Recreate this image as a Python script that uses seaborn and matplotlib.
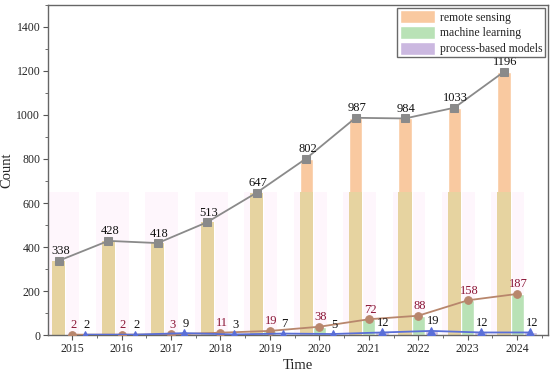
import numpy as np
import pandas as pd
import matplotlib
matplotlib.use("Agg")
import matplotlib.pyplot as plt
import seaborn as sns
from matplotlib.ticker import MultipleLocator

# data
years = ["2015", "2016", "2017", "2018", "2019", "2020", "2021", "2022", "2023", "2024"]
remote_sensing = [338, 428, 418, 513, 647, 802, 987, 984, 1033, 1196]
machine_learning = [2, 2, 3, 11, 19, 38, 72, 88, 158, 187]
process_based = [2, 2, 9, 3, 7, 5, 12, 19, 12, 12]
series_names = ["remote sensing", "machine learning", "process-based models"]

bar_colors = ["#f9c9a0", "#b9e2b6", "#cbb8e0"]
line_colors = ["#8a8a8a", "#b8866c", "#5a6fd8"]
markers = ["s", "o", "^"]
label_colors = ["#111111", "#8a1535", "#111111"]

sns.set_style("ticks")
plt.rcParams["font.family"] = ["Liberation Serif", "DejaVu Serif"]

df = pd.DataFrame({
    "Time": years * 3,
    "Count": remote_sensing + machine_learning + process_based,
    "series": [s for s in series_names for _ in years],
})

fig, ax = plt.subplots(figsize=(5.5, 3.74), dpi=100)
fig.subplots_adjust(left=0.087, right=0.996, top=0.987, bottom=0.104)

sns.barplot(data=df, x="Time", y="Count", hue="series", palette=bar_colors,
            width=0.8, ax=ax, zorder=2, saturation=1)

# remote sensing bars: lower part looks khaki in the reference, faint pink band behind
n = len(years)
rs_patches = ax.patches[:n]
for p, v in zip(rs_patches, remote_sensing):
    ax.bar(p.get_x(), min(v, 650), width=p.get_width(), align="edge",
           color="#e6d3a0", zorder=2.1, linewidth=0)
    ax.bar(p.get_x() - 0.12, 650, width=p.get_width() + 0.4, align="edge",
           color="#fef6fc", zorder=1, linewidth=0)

offsets = [-0.267, 0.0, 0.267]
all_series = [remote_sensing, machine_learning, process_based]
x = np.arange(n)
for vals, off, lc, mk, tc in zip(all_series, offsets, line_colors, markers, label_colors):
    xs = x + off
    sns.lineplot(x=xs, y=vals, color=lc, marker=mk, markersize=5.5,
                 markeredgecolor=lc, linewidth=1.3, ax=ax, zorder=4)
    for xi, v in zip(xs, vals):
        ax.annotate(str(v), (xi, v), xytext=(1, 2.5), textcoords="offset points",
                    ha="center", va="bottom", fontsize=9, color=tc, zorder=5)

ax.set_xlim(-0.49, 9.62)
ax.set_ylim(0, 1500)
ax.yaxis.set_major_locator(MultipleLocator(200))
ax.yaxis.set_minor_locator(MultipleLocator(100))
ax.xaxis.set_minor_locator(MultipleLocator(0.5))
ax.tick_params(axis="both", which="major", labelsize=8.5, length=3.5, color="#555555", pad=2)
ax.tick_params(axis="both", which="minor", length=2, color="#555555")
ax.set_xlabel("Time", fontsize=10.5, labelpad=3)
ax.set_ylabel("Count", fontsize=10.5, labelpad=2)

for s in ax.spines.values():
    s.set_visible(True)
    s.set_color("#666666")
    s.set_linewidth(1.0)

handles, labels = ax.get_legend_handles_labels()
leg = ax.legend(handles[:3], series_names, loc="upper right", fontsize=8.5,
                frameon=True, fancybox=False, edgecolor="#444444",
                handlelength=3.0, handleheight=1.3, borderaxespad=0.25,
                borderpad=0.2, labelspacing=0.2, handletextpad=0.4)
leg.get_frame().set_linewidth(1.0)

fig.savefig("out.png", dpi=100)
